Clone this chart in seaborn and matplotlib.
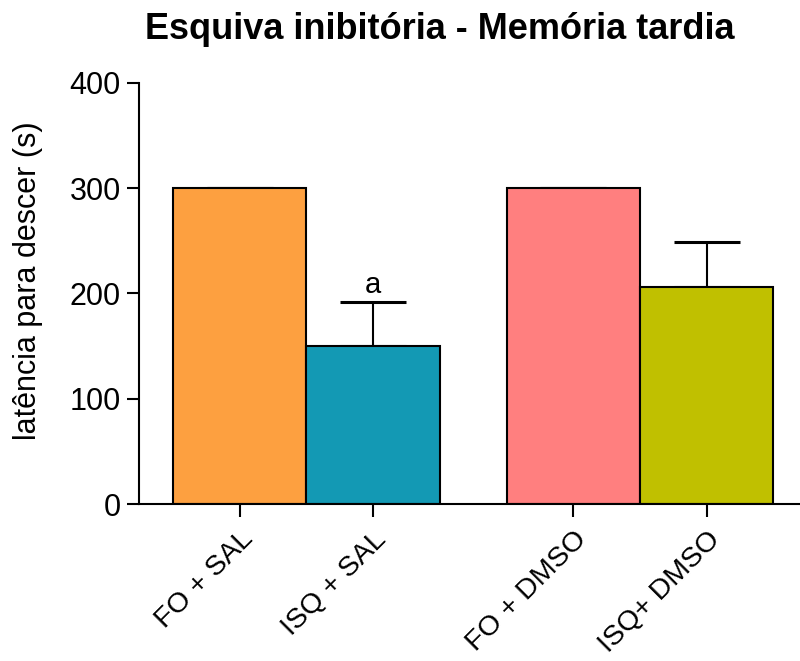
import matplotlib
matplotlib.use("Agg")
import matplotlib.pyplot as plt
import matplotlib.transforms as mtransforms
import seaborn as sns
import pandas as pd
import numpy as np

# Grupos experimentais e latências médias (s)
groups = ["FO + SAL", "ISQ + SAL", "FO + DMSO", "ISQ+ DMSO"]
positions = [0.0, 1.0, 2.5, 3.5]
means = [300, 150, 300, 206]
sem = [0, 42, 0, 43]
colors = ["#FDA040", "#1399B4", "#FF7F7F", "#C0C000"]
annotations = ["", "a", "", ""]

sns.set_theme(style="ticks")
plt.rcParams["font.family"] = ["Liberation Sans", "DejaVu Sans"]
plt.rcParams["text.color"] = "black"
plt.rcParams["axes.labelcolor"] = "black"
plt.rcParams["xtick.color"] = "black"
plt.rcParams["ytick.color"] = "black"

df = pd.DataFrame({"pos": positions, "grupo": groups, "latencia": means})

fig = plt.figure(figsize=(8.0, 6.61), dpi=100)
ax = fig.add_axes([0.17375, 0.2375, 0.82625, 0.637])

sns.barplot(data=df, x="pos", y="latencia", hue="grupo",
            palette=dict(zip(groups, colors)), native_scale=True,
            dodge=False, width=1.0, errorbar=None, legend=False,
            saturation=1, edgecolor="black", linewidth=1.5, ax=ax,
            zorder=2)

# Barras de erro somente para cima (a parte inferior fica atrás das barras)
lower = np.zeros(len(sem))
ax.errorbar(positions, means, yerr=[lower, sem], fmt="none",
            ecolor="black", elinewidth=1.5, capsize=24, capthick=2.2,
            zorder=1)

for x, m, s, t in zip(positions, means, sem, annotations):
    if t:
        ax.text(x, m + s + 3, t, ha="center", va="bottom", fontsize=21)

ax.set_xlim(-0.755, 4.2)
ax.set_ylim(0, 400)
ax.set_yticks([0, 100, 200, 300, 400])
ax.set_xticks(positions)
ax.set_xticklabels(groups, rotation=45, ha="right", rotation_mode="anchor",
                   fontsize=20.5)
shift = mtransforms.ScaledTranslation(-4 / 100, 0, fig.dpi_scale_trans)
for lab in ax.get_xticklabels():
    lab.set_transform(lab.get_transform() + shift)
ax.tick_params(axis="y", labelsize=22, length=9, width=1.5, pad=4)
ax.tick_params(axis="x", length=9, width=1.5, pad=7)
for side in ["left", "bottom"]:
    ax.spines[side].set_linewidth(1.5)
    ax.spines[side].set_color("black")
sns.despine(ax=ax)

ax.set_xlabel("")
ax.set_ylabel("latência para descer (s)", fontsize=22)
ax.yaxis.set_label_coords(-0.145, 0.53)

fig.text(0.55, 0.955, "Esquiva inibitória - Memória tardia",
         ha="center", va="center", fontsize=26, fontweight="bold")

fig.savefig("out.png", dpi=100)
